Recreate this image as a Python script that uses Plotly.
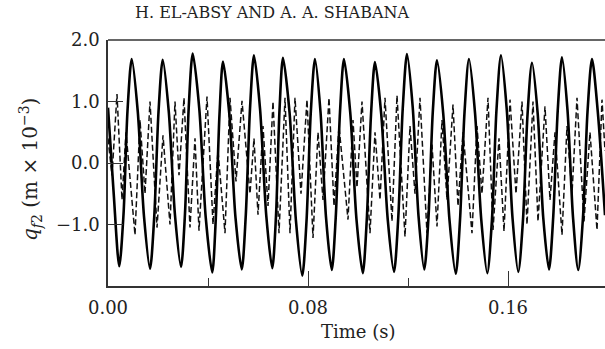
import plotly.graph_objects as go

# Solid series (time s, q_f2 in m x 1e-3)
solid_t = [0.0000, 0.0022, 0.0045, 0.0062, 0.0078, 0.0095, 0.0119, 0.0144, 0.0168, 0.0185,
           0.0202, 0.0219, 0.0243, 0.0268, 0.0292, 0.0308, 0.0323, 0.0339, 0.0365, 0.0391,
           0.0417, 0.0431, 0.0446, 0.0460, 0.0485, 0.0510, 0.0535, 0.0551, 0.0568, 0.0584,
           0.0608, 0.0633, 0.0657, 0.0672, 0.0686, 0.0700, 0.0726, 0.0752, 0.0777, 0.0794,
           0.0811, 0.0828, 0.0850, 0.0872, 0.0895, 0.0911, 0.0928, 0.0944, 0.0969, 0.0994,
           0.1019, 0.1035, 0.1052, 0.1068, 0.1093, 0.1119, 0.1144, 0.1161, 0.1179, 0.1196,
           0.1219, 0.1242, 0.1265, 0.1282, 0.1299, 0.1316, 0.1341, 0.1366, 0.1391, 0.1408,
           0.1426, 0.1444, 0.1468, 0.1493, 0.1517, 0.1536, 0.1554, 0.1572, 0.1595, 0.1618,
           0.1641, 0.1660, 0.1678, 0.1696, 0.1719, 0.1741, 0.1764, 0.1781, 0.1799, 0.1816,
           0.1838, 0.1860, 0.1881, 0.1900, 0.1918, 0.1936, 0.1959, 0.1988]
solid_q = [0.90, -0.45, -1.68, -0.84, 0.85, 1.69, 0.84, -0.87, -1.72, -0.87,
           0.83, 1.68, 0.84, -0.85, -1.69, -0.82, 0.91, 1.78, 0.89, -0.89,
           -1.78, -0.92, 0.79, 1.65, 0.81, -0.89, -1.73, -0.86, 0.88, 1.75,
           0.89, -0.85, -1.71, -0.86, 0.86, 1.71, 0.83, -0.95, -1.83, -0.95,
           0.81, 1.69, 0.83, -0.88, -1.74, -0.88, 0.83, 1.69, 0.82, -0.92,
           -1.79, -0.93, 0.78, 1.64, 0.79, -0.92, -1.77, -0.89, 0.89, 1.77,
           0.90, -0.86, -1.73, -0.88, 0.82, 1.67, 0.80, -0.93, -1.80, -0.93,
           0.82, 1.69, 0.82, -0.92, -1.79, -0.91, 0.87, 1.75, 0.87, -0.89,
           -1.77, -0.92, 0.78, 1.63, 0.79, -0.89, -1.73, -0.87, 0.86, 1.72,
           0.86, -0.88, -1.74, -0.88, 0.83, 1.69, 0.84, -0.85]

# Dashed series
dash_t = [0.0000, 0.0016, 0.0036, 0.0056, 0.0072, 0.0108, 0.0128, 0.0148, 0.0168, 0.0196,
          0.0220, 0.0248, 0.0268, 0.0284, 0.0304, 0.0328, 0.0348, 0.0364, 0.0396, 0.0420,
          0.0440, 0.0468, 0.0488, 0.0512, 0.0536, 0.0568, 0.0584, 0.0600, 0.0620, 0.0640,
          0.0660, 0.0684, 0.0708, 0.0728, 0.0748, 0.0772, 0.0796, 0.0820, 0.0840, 0.0860,
          0.0884, 0.0904, 0.0924, 0.0960, 0.0980, 0.0996, 0.1016, 0.1048, 0.1068, 0.1088,
          0.1108, 0.1136, 0.1156, 0.1188, 0.1208, 0.1228, 0.1248, 0.1276, 0.1296, 0.1316,
          0.1336, 0.1356, 0.1380, 0.1400, 0.1420, 0.1456, 0.1476, 0.1496, 0.1520, 0.1540,
          0.1564, 0.1584, 0.1608, 0.1632, 0.1656, 0.1676, 0.1700, 0.1720, 0.1748, 0.1768,
          0.1788, 0.1816, 0.1836, 0.1856, 0.1876, 0.1904, 0.1928, 0.1956, 0.1976, 0.1988]
dash_q = [0.40, -0.20, 1.12, -0.60, 0.50, -1.17, 0.70, -0.50, 1.00, -1.05,
          0.45, -1.00, 1.00, -0.20, 1.06, -1.05, 0.40, -1.10, 1.08, -1.00,
          0.20, -1.14, 1.06, -0.30, 1.01, -0.50, 0.40, -0.84, 0.60, -0.70,
          1.00, -1.14, 1.06, -1.14, 1.06, -0.50, 1.03, -1.22, 0.50, -0.60,
          1.06, -0.70, 0.60, -0.92, 0.70, -0.40, 1.00, -1.14, 0.50, -0.60,
          1.06, -0.95, 1.10, -1.20, 0.60, -0.50, 1.06, -1.14, 0.30, -1.03,
          0.70, -0.60, 0.95, -0.70, 0.50, -1.14, 0.60, -0.50, 1.06, -1.09,
          0.40, -1.11, 1.03, -0.50, 1.00, -1.00, 1.00, -0.95, 0.92, -0.60,
          0.50, -1.17, 0.60, -0.50, 1.06, -0.95, 0.50, -1.09, 1.03, 0.20]

x_major = [0.0, 0.08, 0.16]
x_major_text = ["0.00", "0.08", "0.16"]
x_minor = [0.04, 0.12]
y_ticks = [-1.0, 0.0, 1.0, 2.0]
y_text = ["\u22121.0", "0.0", "1.0", "2.0"]

FONT = "DejaVu Serif"
AX = "#333333"

fig = go.Figure()
fig.add_trace(go.Scatter(x=dash_t, y=dash_q, mode="lines",
                         line=dict(color="#111111", width=1.5, dash="6px,3px"),
                         showlegend=False))
fig.add_trace(go.Scatter(x=solid_t, y=solid_q, mode="lines",
                         line=dict(color="#000000", width=2.6, shape="spline", smoothing=0.8),
                         showlegend=False))

fig.update_layout(
    width=605, height=349,
    margin=dict(l=108, r=0, t=40, b=63),
    paper_bgcolor="white", plot_bgcolor="white",
    font=dict(family=FONT, size=18, color="#222222"),
    xaxis=dict(range=[0, 0.1988], tickvals=x_major, ticktext=x_major_text,
               ticks="inside", ticklen=15, tickwidth=1.2, tickcolor=AX,
               minor=dict(tickvals=x_minor, ticks="inside", ticklen=8, tickwidth=1.2, tickcolor=AX),
               showline=True, linecolor=AX, linewidth=1.6, showgrid=False, zeroline=False,
               ticklabelstandoff=5),
    yaxis=dict(range=[-2, 2], tickvals=y_ticks, ticktext=y_text,
               ticks="inside", ticklen=15, tickwidth=1.2, tickcolor=AX,
               showline=True, linecolor=AX, linewidth=1.6, showgrid=False, zeroline=False,
               ticklabelstandoff=3),
    shapes=[dict(type="line", xref="paper", yref="paper", x0=0, x1=1, y0=1, y1=1,
                 line=dict(color=AX, width=1.6))],
    annotations=[
        dict(text="H. EL-ABSY AND A. A. SHABANA", xref="paper", yref="paper",
             x=(272 - 108) / 497, y=1 + (40 - 12) / 246, xanchor="center", yanchor="middle",
             showarrow=False, font=dict(family=FONT, size=16, color="#222222")),
        dict(text="Time (s)", xref="paper", yref="paper",
             x=(358 - 108) / 497, y=-(331 - 286) / 246, xanchor="center", yanchor="middle",
             showarrow=False, font=dict(family=FONT, size=18, color="#222222")),
        dict(text="<i>q</i><sub><i>f</i>2</sub> (m \u00d7 10<sup>\u22123</sup>)",
             xref="paper", yref="paper", x=(30 - 108) / 497, y=(286 - 170) / 246,
             xanchor="center", yanchor="middle", textangle=-90, showarrow=False,
             font=dict(family=FONT, size=20, color="#222222")),
    ],
)

fig.write_html("out.html")
